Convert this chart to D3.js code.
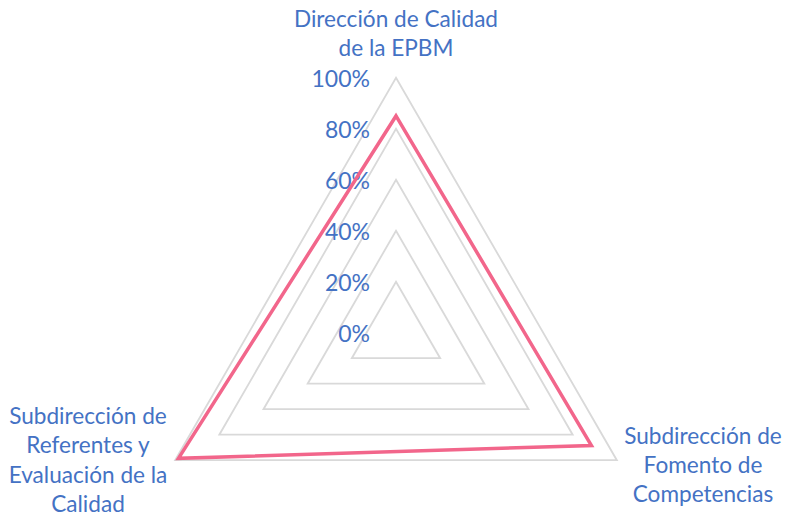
<!DOCTYPE html>
<html><head><meta charset="utf-8">
<script src="https://cdn.jsdelivr.net/npm/d3@7"></script>
<style>body{margin:0;background:#fff}svg{display:block}</style>
</head><body>
<svg id="c" width="786" height="518"></svg>
<script>
const categories = [
  ["Dirección de Calidad", "de la EPBM"],
  ["Subdirección de", "Fomento de", "Competencias"],
  ["Subdirección de", "Referentes y", "Evaluación de la", "Calidad"]
];
const values = [0.85, 0.885, 0.985];
const ticks = [0, 0.2, 0.4, 0.6, 0.8, 1.0];
const tickLabels = ["0%", "20%", "40%", "60%", "80%", "100%"];

const svg = d3.select("#c");
const cx = 396, cy = 332.7, R = 255;
const r = d3.scaleLinear().domain([0, 1]).range([0, R]);
const ang = d3.scaleLinear().domain([0, categories.length]).range([0, 2 * Math.PI]);
const pt = (i, v) => [cx + r(v) * Math.sin(ang(i)), cy - r(v) * Math.cos(ang(i))];
const line = d3.line().curve(d3.curveLinearClosed);
const font = "Lato, sans-serif";
const blue = "#4472C4";

// grid
ticks.filter(t => t > 0).forEach(t => {
  svg.append("path")
    .attr("d", line(categories.map((c, i) => pt(i, t))))
    .attr("fill", "none").attr("stroke", "#D9D9D9").attr("stroke-width", 1.8);
});

// tick labels
ticks.forEach((t, k) => {
  svg.append("text").attr("x", 370).attr("y", cy - r(t) + 3)
    .attr("text-anchor", "end").attr("dominant-baseline", "middle")
    .attr("font-family", font).attr("font-size", 23).attr("fill", blue)
    .text(tickLabels[k]);
});

// series
svg.append("path")
  .attr("d", line(values.map((v, i) => pt(i, v))))
  .attr("fill", "none").attr("stroke", "#F2668B").attr("stroke-width", 3.5)
  .attr("stroke-linejoin", "miter");

// category labels
const labelPos = [
  {x: 396, y: 21},
  {x: 703, y: 438},
  {x: 88, y: 418.5}
];
categories.forEach((lines, i) => {
  const t = svg.append("text").attr("text-anchor", "middle")
    .attr("font-family", font).attr("font-size", 22.6).attr("fill", blue);
  lines.forEach((l, j) => {
    t.append("tspan").attr("x", labelPos[i].x).attr("y", labelPos[i].y + j * 29.2)
      .attr("dominant-baseline", "middle").text(l);
  });
});
</script>
</body></html>
